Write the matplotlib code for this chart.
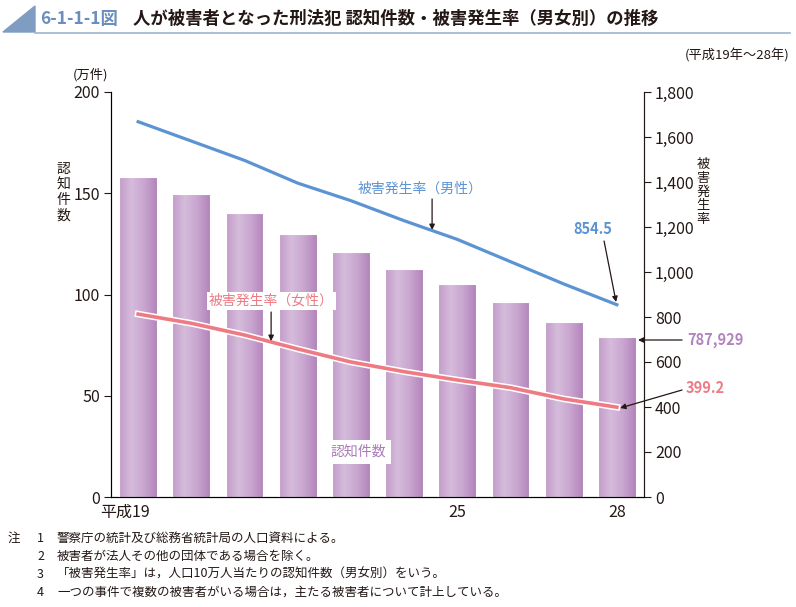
import matplotlib
matplotlib.use("Agg")
import matplotlib.pyplot as plt
import numpy as np
from matplotlib.patches import Rectangle, Polygon
from matplotlib.lines import Line2D
import matplotlib.patheffects as pe
import matplotlib.transforms as mtransforms
from matplotlib.colors import LinearSegmentedColormap
from matplotlib.ticker import FuncFormatter

plt.rcParams['font.family'] = ['Noto Sans CJK JP', 'DejaVu Sans']

# ---- data ----
years = ["平成19", "20", "21", "22", "23", "24", "25", "26", "27", "28"]
tick_labels = ["平成19", "", "", "", "", "", "25", "", "", "28"]
cases = [157.9, 149.5, 140.1, 129.7, 120.8, 112.4, 105.4, 96.5, 86.6, 78.79]   # 万件
rate_male = [1668, 1582, 1496, 1395, 1317, 1228, 1145, 1046, 947, 854.5]
rate_female = [813, 772, 720, 658, 600, 557, 520, 486, 436, 399.2]

W, H = 796, 607
fig = plt.figure(figsize=(W / 100, H / 100), dpi=100)

def fx(px):
    return px / W

def fy(py):
    return 1 - py / H

# ---- header ----
fig.patches.append(Polygon([[fx(3), fy(32)], [fx(35), fy(6)], [fx(35), fy(32)]],
                           closed=True, transform=fig.transFigure, color='#7f9dc2'))
fig.lines.append(Line2D([fx(35), fx(790)], [fy(32.5), fy(32.5)], transform=fig.transFigure,
                        color='#9db4d2', lw=1.2))
fig.text(fx(40), fy(19), "6-1-1-1図", fontsize=12.5, fontweight='bold', color='#6b8fbd',
         va='center', ha='left')
fig.text(fx(133), fy(19), "人が被害者となった刑法犯 認知件数・被害発生率（男女別）の推移",
         fontsize=12.5, fontweight='bold', color='#231815', va='center', ha='left')
fig.text(fx(789), fy(55), "(平成19年～28年)", fontsize=9.5, color='#231815', va='center', ha='right')

# ---- axes ----
left, right, top, bottom = 111, 644, 92, 497
ax = fig.add_axes([fx(left), fy(bottom), fx(right - left), (bottom - top) / H])
x = np.arange(len(years))
bw = 0.71

cmap = LinearSegmentedColormap.from_list(
    'barg', ['#c39bc9', '#d5bcdb', '#c9a5cf', '#b284ba'], N=256)
grad = np.linspace(0, 1, 256).reshape(1, -1)
for xi, v in zip(x, cases):
    rect = Rectangle((xi - bw / 2, 0), bw, v, facecolor='none', edgecolor='white', lw=0.8, zorder=3)
    ax.add_patch(rect)
    im = ax.imshow(grad, cmap=cmap, aspect='auto', extent=(xi - bw / 2, xi + bw / 2, 0, v),
                   zorder=2, interpolation='bilinear')
    im.set_clip_path(rect)

ax.set_xlim(-0.51, 9.51)
ax.set_ylim(0, 200)
ax.set_yticks([0, 50, 100, 150, 200])
ax.set_xticks(x)
ax.set_xticklabels(tick_labels)
ax.tick_params(axis='x', length=0, labelsize=11.5, pad=5, colors='#231815')
ax.tick_params(axis='y', length=5, width=0.8, labelsize=11.5, colors='#231815', pad=3,
               direction='out')
# first label: digits centred under the bar
lab0 = ax.get_xticklabels()[0]
lab0.set_ha('right')
lab0.set_transform(lab0.get_transform() +
                   mtransforms.ScaledTranslation(12 / 100, 0, fig.dpi_scale_trans))
ax.spines['top'].set_visible(False)
for s in ['left', 'bottom', 'right']:
    ax.spines[s].set_color('#231815')
    ax.spines[s].set_linewidth(0.8)
ax.set_facecolor('none')

ax2 = ax.twinx()
ax2.set_ylim(0, 1800)
ax2.set_yticks(np.arange(0, 1801, 200))
ax2.yaxis.set_major_formatter(FuncFormatter(lambda v, p: f"{int(v):,}"))
ax2.tick_params(axis='y', length=5, width=0.8, labelsize=11.5, colors='#231815', pad=3)
ax2.spines['top'].set_visible(False)
ax2.spines['right'].set_color('#231815')
ax2.spines['right'].set_linewidth(0.8)
ax2.set_xlim(-0.51, 9.51)

blue = '#5b93d3'
pink = '#ee7b84'
purple = '#b383bf'

ax2.plot(x, rate_male, color=blue, lw=2.3, solid_joinstyle='round', zorder=4)
ax2.plot(x, rate_female, color=pink, lw=2.6, solid_joinstyle='round', zorder=4,
         path_effects=[pe.Stroke(linewidth=4.8, foreground='white'), pe.Normal()])

# axis labels
fig.text(fx(90), fy(75), "(万件)", fontsize=9.5, color='#231815', ha='center', va='center')
fig.text(fx(63), fy(192), "認\n知\n件\n数", fontsize=10, color='#231815', ha='center', va='center',
         linespacing=1.15)
fig.text(fx(703), fy(192), "被\n害\n発\n生\n率", fontsize=9.5, color='#231815', ha='center',
         va='center', linespacing=1.08)

# annotations
def px2(xp, yp):
    return ((xp - 138) / 53.2, (497 - yp) / 0.225)

arrow = dict(arrowstyle='-|>', color='#231815', lw=0.9, mutation_scale=8, shrinkA=0, shrinkB=0)

ax2.text(*px2(420, 189), "被害発生率（男性）", color=blue, fontsize=10, ha='center', va='center')
ax2.annotate("", xy=px2(432, 230), xytext=px2(432, 199), arrowprops=arrow)

ax2.text(*px2(593, 229), "854.5", color=blue, fontsize=10.5, fontweight='bold', ha='center',
         va='center')
ax2.annotate("", xy=px2(616, 302), xytext=px2(604, 241), arrowprops=arrow)

ax2.text(*px2(271, 301), "被害発生率（女性）", color=pink, fontsize=10, ha='center', va='center',
         zorder=6, bbox=dict(boxstyle='square,pad=0.15', fc='white', ec='none'))
ax2.annotate("", xy=px2(271, 341), xytext=px2(271, 312), arrowprops=arrow, zorder=6)

ax2.text(*px2(687, 340), "787,929", color=purple, fontsize=10.5, fontweight='bold', ha='left',
         va='center', clip_on=False)
ax2.annotate("", xy=px2(638, 340), xytext=px2(682, 340), arrowprops=arrow, annotation_clip=False)

ax2.text(*px2(686, 388), "399.2", color=pink, fontsize=10.5, fontweight='bold', ha='left',
         va='center', clip_on=False)
ax2.annotate("", xy=px2(620, 408), xytext=px2(682, 390), arrowprops=arrow, annotation_clip=False)

ax2.text(*px2(358, 452), "認知件数", color='#a97bb5', fontsize=10, ha='center', va='center',
         zorder=6, bbox=dict(boxstyle='square,pad=0.35', fc='white', ec='none'))

# notes
notes = [
    ("注", "1", "警察庁の統計及び総務省統計局の人口資料による。"),
    ("", "2", "被害者が法人その他の団体である場合を除く。"),
    ("", "3", "「被害発生率」は，人口10万人当たりの認知件数（男女別）をいう。"),
    ("", "4", "一つの事件で複数の被害者がいる場合は，主たる被害者について計上している。"),
]
ys = [538, 556, 574, 592]
for (a, n, t), yy in zip(notes, ys):
    if a:
        fig.text(fx(8), fy(yy), a, fontsize=9, color='#231815', va='center', ha='left')
    fig.text(fx(37), fy(yy), n, fontsize=9, color='#231815', va='center', ha='left')
    fig.text(fx(57), fy(yy), t, fontsize=9, color='#231815', va='center', ha='left')

fig.savefig("out.png", dpi=100)
